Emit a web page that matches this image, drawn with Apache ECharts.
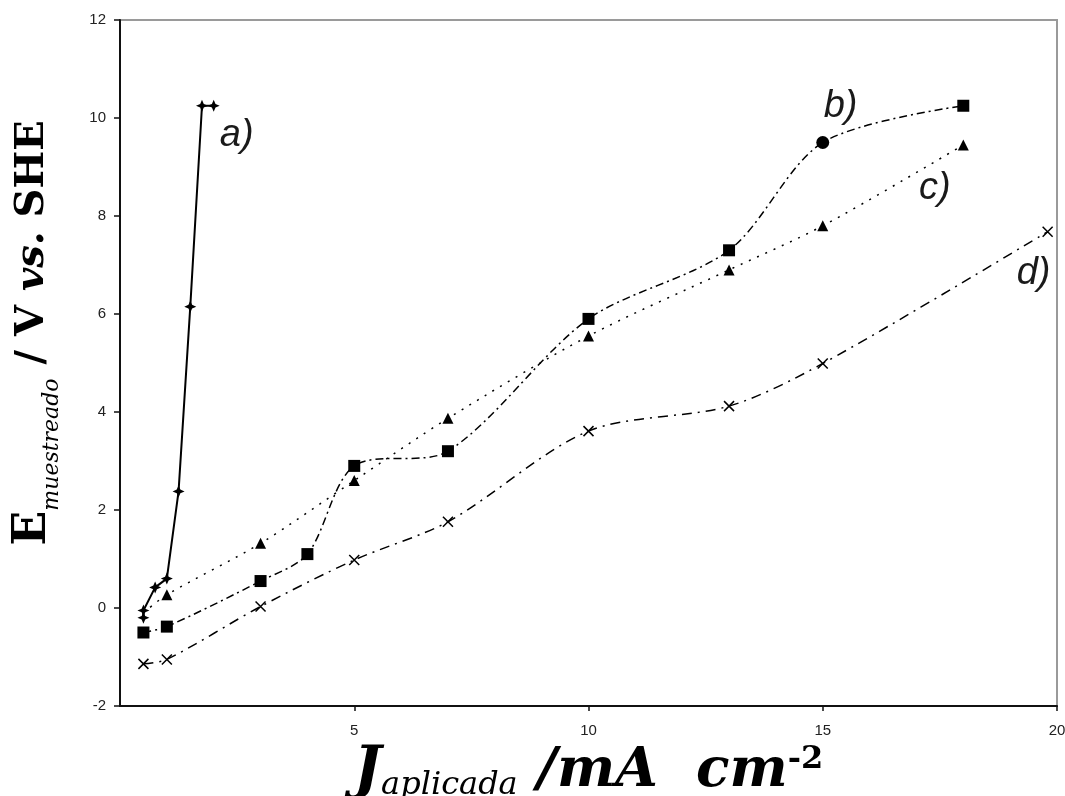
<!DOCTYPE html>
<html>
<head>
<meta charset="utf-8">
<script src="https://cdn.jsdelivr.net/npm/echarts@6/dist/echarts.min.js"></script>
<style>
html,body{margin:0;padding:0;background:#fff;}
#chart{width:1065px;height:796px;}
</style>
</head>
<body>
<div id="chart"></div>
<script>
// ---- data ----
const aX = [0.5, 0.5, 0.75, 1, 1.25, 1.5, 1.75, 2];
const aY = [-0.2, -0.05, 0.42, 0.6, 2.38, 6.15, 10.25, 10.25];

const bX = [0.5, 1, 3, 4, 5, 7, 10, 13, 15, 18];
const bY = [-0.5, -0.38, 0.55, 1.1, 2.9, 3.2, 5.9, 7.3, 9.5, 10.25];

const cX = [0.5, 1, 3, 5, 7, 10, 13, 15, 18];
const cY = [-0.1, 0.27, 1.32, 2.6, 3.87, 5.55, 6.9, 7.8, 9.45];

const dX = [0.5, 1, 3, 5, 7, 10, 13, 15, 19.8];
const dY = [-1.14, -1.05, 0.03, 0.98, 1.76, 3.61, 4.12, 4.99, 7.68];

const seriesNames = ['a)', 'b)', 'c)', 'd)'];
// label anchor positions (data units)
const labelX = [2.49, 15.38, 17.39, 19.5];
const labelY = [9.65, 10.24, 8.57, 6.82];

const xTicks = [0, 20, 5];   // min, max, interval
const yTicks = [-2, 12, 2];

// ---- build ----
function pairs(xs, ys) { return xs.map((x, i) => [x, ys[i]]); }

const starPath = 'path://M0,-6 L1.8,-1.8 L6,0 L1.8,1.8 L0,6 L-1.8,1.8 L-6,0 L-1.8,-1.8 Z';
const crossPath = 'path://M-5,-4 L5,4 M-5,4 L5,-4';

function labelPoint(i) {
  return {
    symbol: 'circle',
    symbolSize: 1,
    silent: true,
    itemStyle: { color: 'rgba(0,0,0,0)' },
    label: {
      show: true, position: 'inside', formatter: seriesNames[i],
      fontFamily: 'Liberation Sans', fontStyle: 'italic', fontSize: 38, color: '#1a1a1a'
    },
    data: [{ coord: [labelX[i], labelY[i]] }]
  };
}

const cData = pairs(cX, cY).map((p, i) => i === 0 ? { value: p, symbol: 'none' } : p);
const bData = pairs(bX, bY).map((p, i) => bX[i] === 15 ? { value: p, symbol: 'circle', symbolSize: 13 } : p);

const chart = echarts.init(document.getElementById('chart'), null, { renderer: 'canvas' });
chart.setOption({
  animation: false,
  backgroundColor: '#fff',
  grid: {
    left: 120, right: 8, top: 20, bottom: 90,
    outerBoundsMode: 'none', containLabel: false,
    show: true, borderColor: '#9a9a9a', borderWidth: 2, backgroundColor: 'transparent'
  },
  xAxis: {
    type: 'value', min: xTicks[0], max: xTicks[1], interval: xTicks[2],
    splitLine: { show: false },
    axisLine: { onZero: false, lineStyle: { color: '#111', width: 2 } },
    axisTick: { show: true, inside: false, length: 5, lineStyle: { color: '#111', width: 1.5 } },
    axisLabel: { showMinLabel: false, color: '#222', fontFamily: 'Liberation Sans', fontSize: 15, margin: 17 },
    name: '{J|J}{sub|aplicada}{m| /mA  cm}{sup|-2}',
    nameLocation: 'middle', nameGap: 30,
    nameTextStyle: {
      rich: {
        J: { fontFamily: 'DejaVu Serif', fontWeight: 'bold', fontStyle: 'italic', fontSize: 58, color: '#000', verticalAlign: 'middle', lineHeight: 56 },
        sub: { fontFamily: 'DejaVu Serif', fontStyle: 'italic', fontSize: 32, color: '#000', verticalAlign: 'bottom', lineHeight: 28, padding: [0, 0, -2, 0] },
        m: { fontFamily: 'DejaVu Serif', fontWeight: 'bold', fontStyle: 'italic', fontSize: 55, color: '#000', verticalAlign: 'middle', lineHeight: 56 },
        sup: { fontFamily: 'DejaVu Serif', fontWeight: 'bold', fontSize: 32, color: '#000', verticalAlign: 'top', lineHeight: 28 }
      }
    }
  },
  yAxis: {
    type: 'value', min: yTicks[0], max: yTicks[1], interval: yTicks[2],
    splitLine: { show: false },
    axisLine: { onZero: false, lineStyle: { color: '#111', width: 2 } },
    axisTick: { show: true, inside: false, length: 6, lineStyle: { color: '#111', width: 1.5 } },
    axisLabel: { color: '#222', fontFamily: 'Liberation Sans', fontSize: 15, margin: 14 },
    name: '{E|E}{sub|muestreado}{m| / V }{vs|vs.}{m| SHE}',
    nameLocation: 'middle', nameGap: 63, nameRotate: 90,
    nameTextStyle: {
      padding: [0, 0, 0, 60],
      rich: {
        E: { fontFamily: 'DejaVu Serif', fontWeight: 'bold', fontSize: 46, color: '#000', verticalAlign: 'middle', lineHeight: 48 },
        sub: { fontFamily: 'DejaVu Serif', fontStyle: 'italic', fontSize: 22, color: '#000', verticalAlign: 'bottom', lineHeight: 22, padding: [0, 0, -6, 0] },
        m: { fontFamily: 'DejaVu Serif', fontWeight: 'bold', fontSize: 40, color: '#000', verticalAlign: 'middle', lineHeight: 48 },
        vs: { fontFamily: 'DejaVu Serif', fontWeight: 'bold', fontStyle: 'italic', fontSize: 40, color: '#000', verticalAlign: 'middle', lineHeight: 48 }
      }
    }
  },
  series: [
    {
      name: seriesNames[0], type: 'line', data: pairs(aX, aY), smooth: false,
      symbol: starPath, symbolSize: 12,
      itemStyle: { color: '#000' },
      lineStyle: { color: '#000', width: 2 },
      markPoint: labelPoint(0)
    },
    {
      name: seriesNames[1], type: 'line', data: bData, smooth: 0.3,
      symbol: 'rect', symbolSize: 12,
      itemStyle: { color: '#000' },
      lineStyle: { color: '#000', width: 1.5, type: [8, 4, 2, 4] },
      markPoint: labelPoint(1)
    },
    {
      name: seriesNames[2], type: 'line', data: cData, smooth: 0.3,
      symbol: 'triangle', symbolSize: 11,
      itemStyle: { color: '#000' },
      lineStyle: { color: '#000', width: 1.5, type: [2, 7] },
      markPoint: labelPoint(2)
    },
    {
      name: seriesNames[3], type: 'line', data: pairs(dX, dY), smooth: 0.3,
      symbol: crossPath, symbolSize: 10,
      itemStyle: { color: 'transparent', borderColor: '#000', borderWidth: 1.5 },
      lineStyle: { color: '#000', width: 1.5, type: [10, 6, 2, 6] },
      markPoint: labelPoint(3)
    }
  ]
});
</script>
</body>
</html>
